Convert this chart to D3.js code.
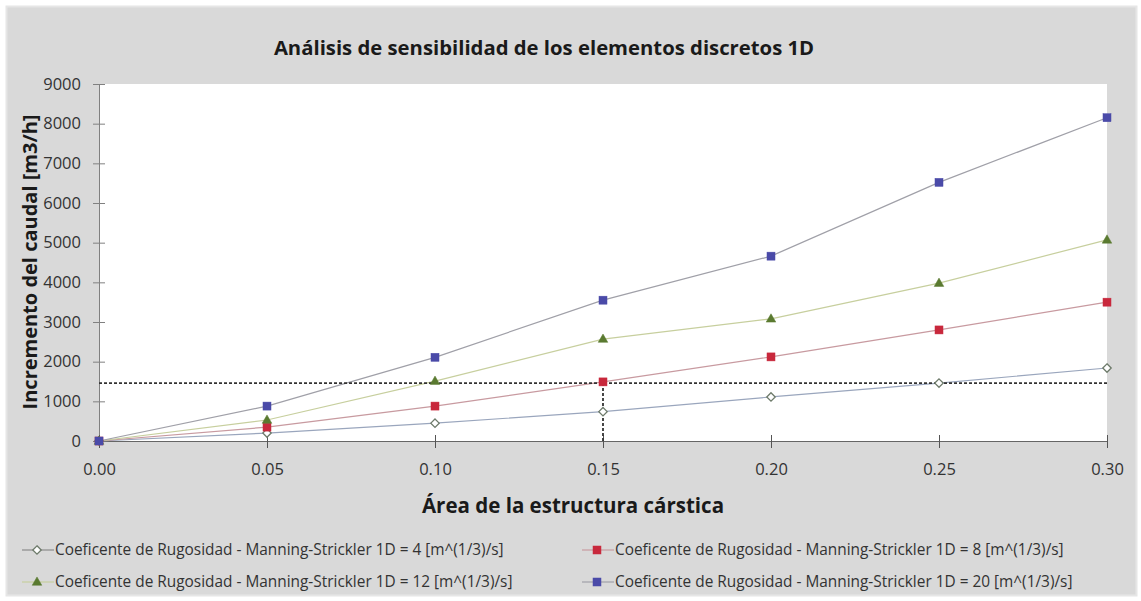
<!DOCTYPE html>
<html>
<head>
<meta charset="utf-8">
<script src="https://cdn.jsdelivr.net/npm/d3@7"></script>
<style>
  html, body { margin: 0; padding: 0; background: #ffffff; }
  svg text { font-family: "Open Sans", "Noto Sans", sans-serif; }
</style>
</head>
<body>
<svg id="chart" width="1141" height="601"></svg>
<script>
// Área de la estructura cárstica (x values)
const areas = [0.00, 0.05, 0.10, 0.15, 0.20, 0.25, 0.30];

// Incremento del caudal [m3/h] for each roughness coefficient
const k4  = [0, 200, 450, 740, 1110, 1460, 1840];
const k8  = [0, 350, 880, 1490, 2120, 2800, 3500];
const k12 = [0, 530, 1510, 2570, 3080, 3980, 5070];
const k20 = [0, 880, 2110, 3550, 4660, 6520, 8150];

const seriesNames = [
  "Coeficente de Rugosidad - Manning-Strickler 1D = 4 [m^(1/3)/s]",
  "Coeficente de Rugosidad - Manning-Strickler 1D = 8 [m^(1/3)/s]",
  "Coeficente de Rugosidad - Manning-Strickler 1D = 12 [m^(1/3)/s]",
  "Coeficente de Rugosidad - Manning-Strickler 1D = 20 [m^(1/3)/s]"
];

const xTicks = [0.00, 0.05, 0.10, 0.15, 0.20, 0.25, 0.30];
const yTicks = [0, 1000, 2000, 3000, 4000, 5000, 6000, 7000, 8000, 9000];

// Reference level (dashed guide lines)
const refArea = 0.15;
const refFlow = 1460;

const series = [
  { name: seriesNames[0], values: k4,  line: "#9aa6bd", marker: "diamond",  fill: "#ffffff", stroke: "#6d7a6a" },
  { name: seriesNames[1], values: k8,  line: "#c89aa0", marker: "square",   fill: "#c8283c", stroke: "#c8283c" },
  { name: seriesNames[2], values: k12, line: "#c7cf9e", marker: "triangle", fill: "#5a7a30", stroke: "#5a7a30" },
  { name: seriesNames[3], values: k20, line: "#a0a0a8", marker: "square",   fill: "#4a4aa8", stroke: "#4a4aa8" }
];

const svg = d3.select("#chart");

// chart frame
svg.append("rect")
  .attr("x", 6.5).attr("y", 6.5).attr("width", 1130).attr("height", 589)
  .attr("fill", "#d9d9d9").attr("stroke", "#e6e6e6").attr("stroke-width", 2);

const plot = { left: 99, right: 1107, top: 84, bottom: 441 };

const x = d3.scaleLinear().domain([0, 0.30]).range([plot.left, plot.right]);
const y = d3.scaleLinear().domain([0, 9000]).range([plot.bottom, plot.top]);

// plot area
svg.append("rect")
  .attr("x", plot.left).attr("y", plot.top)
  .attr("width", plot.right - plot.left).attr("height", plot.bottom - plot.top)
  .attr("fill", "#ffffff");

// title
svg.append("text")
  .attr("x", 544).attr("y", 55)
  .attr("text-anchor", "middle")
  .attr("font-size", 20.3).attr("font-weight", "bold").attr("fill", "#1a1a1a")
  .text("Análisis de sensibilidad de los elementos discretos 1D");

// y axis
const yAxis = svg.append("g")
  .attr("transform", `translate(${plot.left},0)`)
  .call(d3.axisLeft(y).tickValues(yTicks).tickFormat(d3.format("d")).tickSizeInner(6).tickSizeOuter(0).tickPadding(12));
yAxis.select(".domain").attr("stroke", "#808080");
yAxis.selectAll(".tick line").attr("stroke", "#808080").attr("x2", 6).attr("x1", -6);
yAxis.selectAll(".tick text").attr("font-size", 16.5).attr("fill", "#333").attr("font-family", "Open Sans, sans-serif");

// x axis
const xAxis = svg.append("g")
  .attr("transform", `translate(0,${plot.bottom})`)
  .call(d3.axisBottom(x).tickValues(xTicks).tickFormat(d3.format(".2f")).tickSizeInner(6).tickSizeOuter(0).tickPadding(16));
xAxis.select(".domain").attr("stroke", "#666");
xAxis.selectAll(".tick line").attr("stroke", "#555").attr("y1", -6).attr("y2", 7);
xAxis.selectAll(".tick text").attr("font-size", 16.5).attr("fill", "#333").attr("font-family", "Open Sans, sans-serif");

// axis titles
svg.append("text")
  .attr("x", 573).attr("y", 513)
  .attr("text-anchor", "middle")
  .attr("font-size", 20.5).attr("font-weight", "bold").attr("fill", "#1a1a1a")
  .text("Área de la estructura cárstica");

svg.append("text")
  .attr("transform", "translate(37,262) rotate(-90)")
  .attr("text-anchor", "middle")
  .attr("font-size", 20).attr("font-weight", "bold").attr("fill", "#1a1a1a")
  .text("Incremento del caudal [m3/h]");

// series lines
const lineGen = d3.line().x((d, i) => x(areas[i])).y(d => y(d));
series.forEach(s => {
  svg.append("path")
    .datum(s.values)
    .attr("fill", "none")
    .attr("stroke", s.line)
    .attr("stroke-width", 1.2)
    .attr("d", lineGen);
});

// dashed guide lines
svg.append("line")
  .attr("x1", plot.left).attr("x2", plot.right)
  .attr("y1", y(refFlow)).attr("y2", y(refFlow))
  .attr("stroke", "#333").attr("stroke-width", 1.8).attr("stroke-dasharray", "3,2");
svg.append("line")
  .attr("x1", x(refArea)).attr("x2", x(refArea))
  .attr("y1", y(refFlow)).attr("y2", y(0))
  .attr("stroke", "#333").attr("stroke-width", 1.8).attr("stroke-dasharray", "3,2");

// markers
function drawMarker(g, type, cx, cy, fill, stroke) {
  if (type === "square") {
    g.append("rect").attr("x", cx - 4).attr("y", cy - 4).attr("width", 8).attr("height", 8)
      .attr("fill", fill).attr("stroke", stroke).attr("stroke-width", 0.5);
  } else if (type === "triangle") {
    g.append("path").attr("d", d3.symbol(d3.symbolTriangle, 40)())
      .attr("transform", `translate(${cx},${cy + 0.5})`)
      .attr("fill", fill).attr("stroke", stroke).attr("stroke-width", 0.5);
  } else {
    g.append("path").attr("d", d3.symbol(d3.symbolDiamond2, 45)())
      .attr("transform", `translate(${cx},${cy})`)
      .attr("fill", fill).attr("stroke", stroke).attr("stroke-width", 1.3);
  }
}

const markers = svg.append("g");
series.forEach(s => {
  s.values.forEach((v, i) => drawMarker(markers, s.marker, x(areas[i]), y(v), s.fill, s.stroke));
});

// legend
const legendPos = [
  { x: 22, y: 550 }, { x: 582, y: 550 },
  { x: 22, y: 582 }, { x: 582, y: 582 }
];
const legendMarkerFill = ["#ffffff", "#c8283c", "#5a7a30", "#4a4aa8"];
series.forEach((s, i) => {
  const p = legendPos[i];
  const g = svg.append("g");
  g.append("line").attr("x1", p.x).attr("x2", p.x + 32).attr("y1", p.y).attr("y2", p.y)
    .attr("stroke", i === 0 ? "#8a8a8a" : s.line).attr("stroke-width", 1.2);
  drawMarker(g, s.marker, p.x + 15, p.y, legendMarkerFill[i], s.stroke);
  g.append("text").attr("x", p.x + 33).attr("y", p.y + 5)
    .attr("font-size", 15.4).attr("fill", "#333")
    .text(s.name);
});
</script>
</body>
</html>
